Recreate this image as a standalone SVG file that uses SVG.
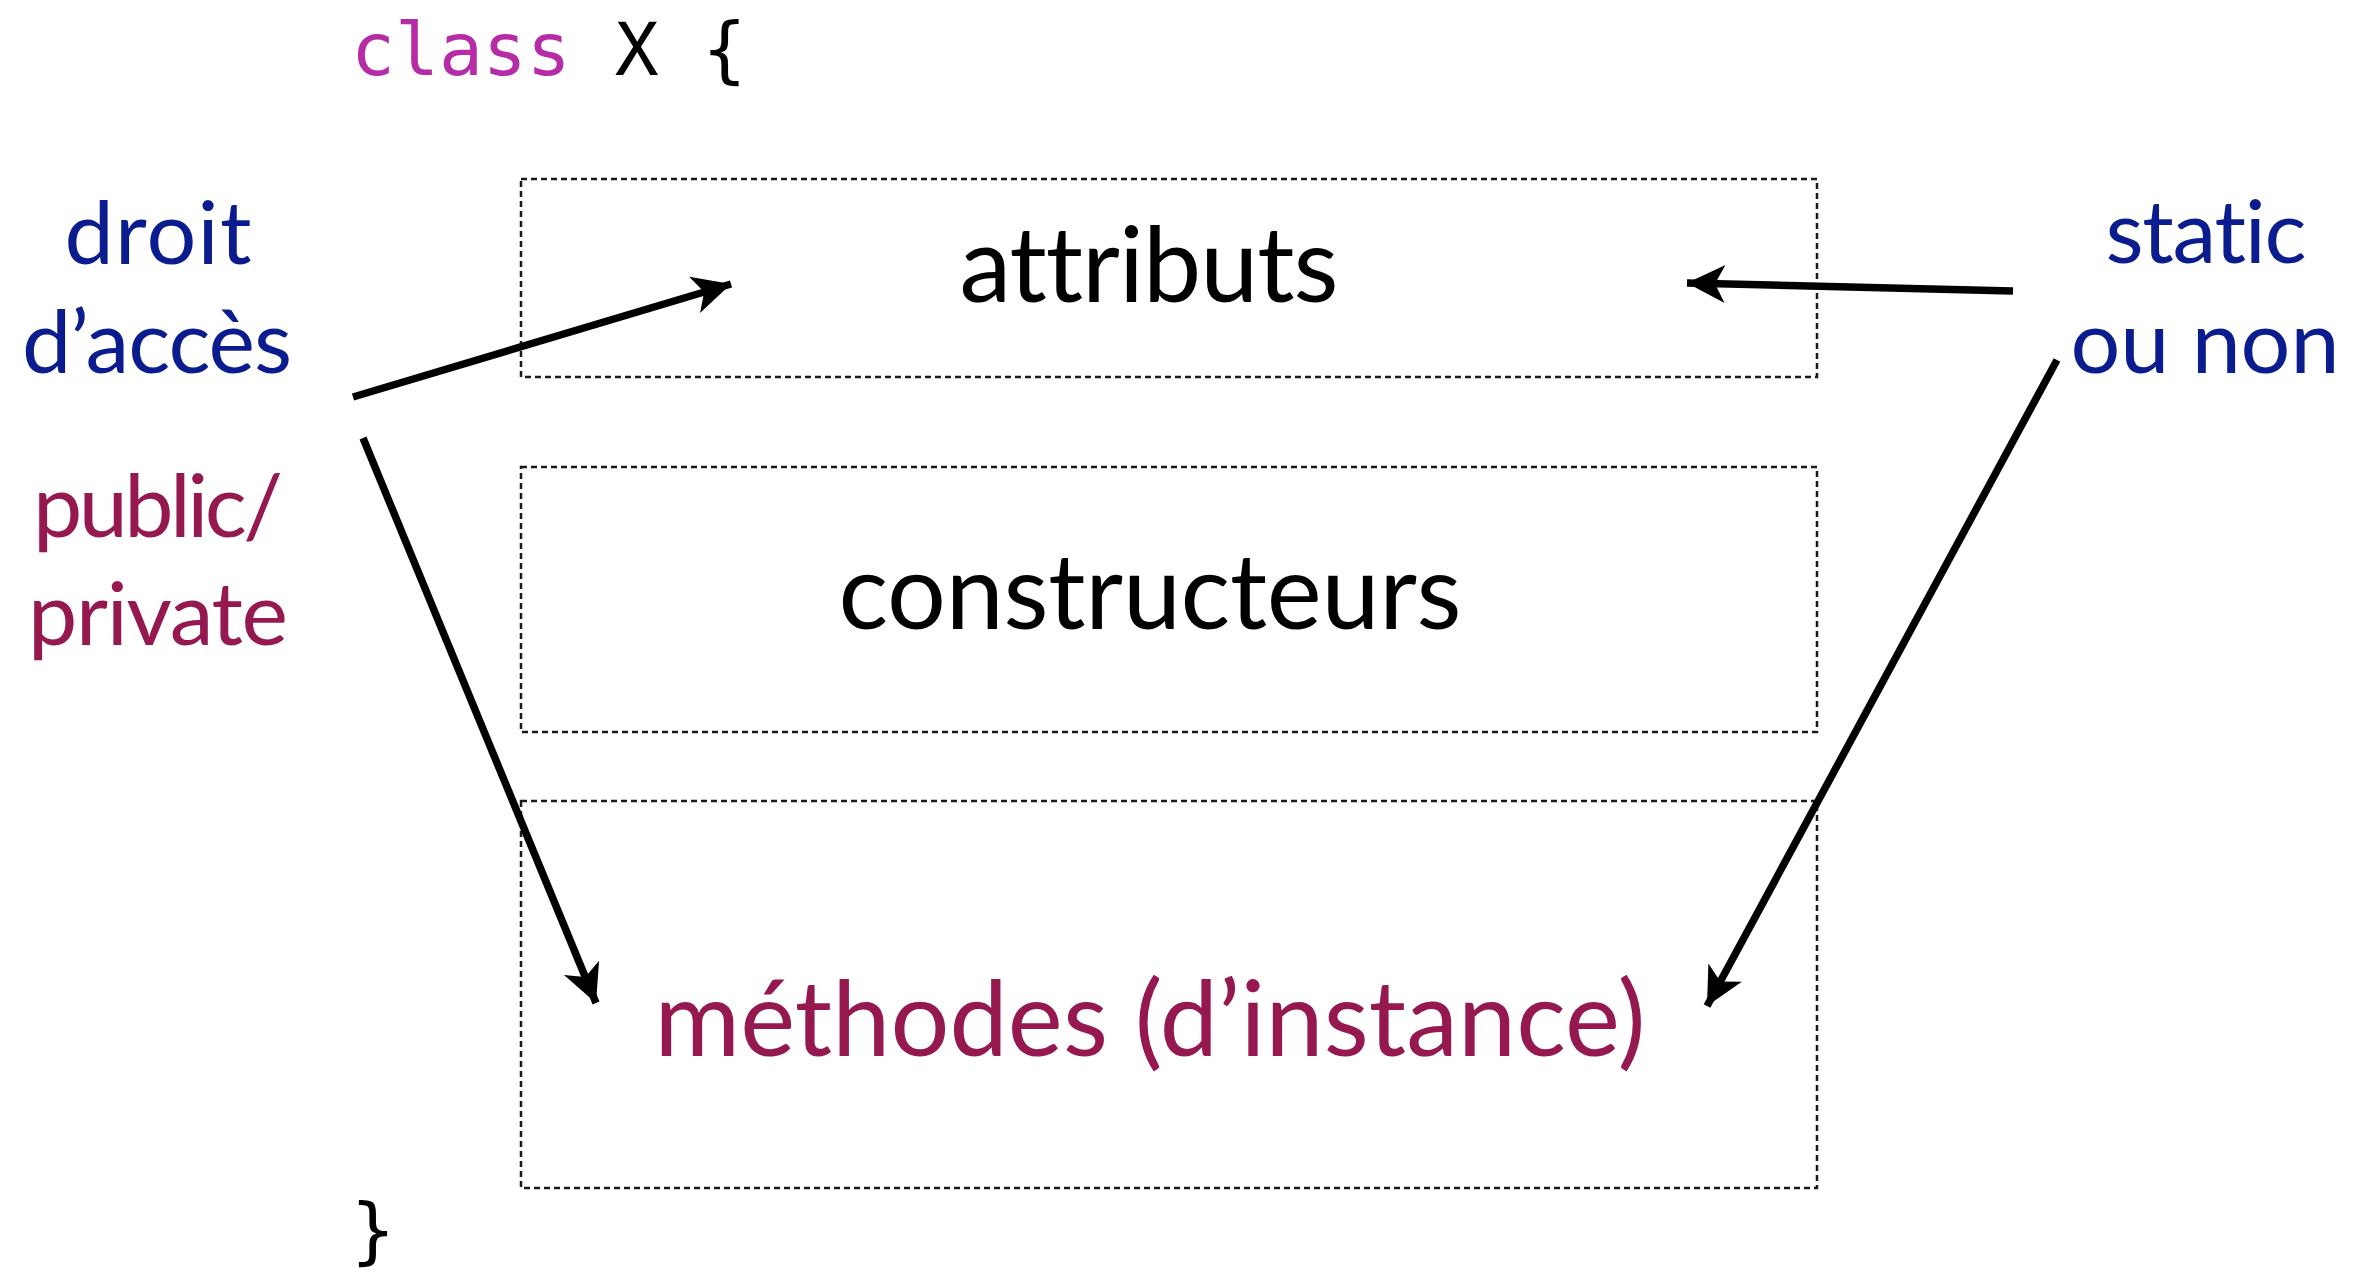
<svg xmlns="http://www.w3.org/2000/svg" width="2365" height="1272" viewBox="0 0 2365 1272">
  <style>
    text { font-variant-ligatures: none; font-feature-settings: "liga" 0, "clig" 0; }
    .code { font-family: "DejaVu Sans Mono", "Liberation Mono", monospace; font-size: 73px; }
    .kw { fill: #B62CA6; }
    .plain { fill: #000000; }
    .box { fill: none; stroke: #1a1a1a; stroke-width: 2.5; stroke-dasharray: 6 4; }
    .part { font-family: Lato, "Open Sans", sans-serif; font-size: 104px; text-anchor: middle; }
    .side { font-family: Lato, "Open Sans", sans-serif; font-size: 88px; text-anchor: middle; }
    .blue { fill: #0A1C8E; }
    .maroon { fill: #95184F; }
    .black { fill: #000000; }
    .arrow { fill: none; stroke: #000000; stroke-width: 7.5; marker-end: url(#head); }
  </style>
  <defs>
    <marker id="head" markerUnits="userSpaceOnUse" markerWidth="50" markerHeight="50" viewBox="-42 -25 50 50" refX="0" refY="0" orient="auto">
      <path d="M0,0 L-38,-19 L-28,0 L-38,19 Z" fill="#000000"/>
    </marker>
  </defs>

  <!-- class header and closing brace -->
  <g id="class-header">
    <text class="code" x="351" y="75"><tspan class="kw">class</tspan><tspan class="plain"> X {</tspan></text>
  </g>
  <g id="class-footer">
    <text class="code plain" x="351" y="1256">}</text>
  </g>

  <!-- class members -->
  <g id="attributs">
    <rect class="box" x="521" y="179" width="1296" height="198"/>
    <text class="part black" x="1149" y="302" textLength="379">attributs</text>
  </g>
  <g id="constructeurs">
    <rect class="box" x="521" y="467" width="1296" height="265"/>
    <text class="part black" x="1150" y="629" textLength="623">constructeurs</text>
  </g>
  <g id="methodes">
    <rect class="box" x="521" y="801" width="1296" height="387"/>
    <text class="part maroon" x="1150" y="1056" textLength="991">méthodes (d’instance)</text>
  </g>

  <!-- side notes -->
  <g id="droit-acces">
    <text class="side blue" x="158" y="264" textLength="187">droit</text>
    <text class="side blue" x="157" y="373" textLength="270">d’accès</text>
  </g>
  <g id="public-private">
    <text class="side maroon" x="158" y="537" textLength="250">public/</text>
    <text class="side maroon" x="158" y="645" textLength="260">private</text>
  </g>
  <g id="static-ou-non">
    <text class="side blue" x="2206" y="263" textLength="201">static</text>
    <text class="side blue" x="2205" y="373" textLength="269">ou non</text>
  </g>

  <!-- connectors -->
  <g id="connectors">
    <line class="arrow" x1="353" y1="397" x2="731" y2="284"/>
    <line class="arrow" x1="363" y1="438" x2="596" y2="1003"/>
    <line class="arrow" x1="2013" y1="291" x2="1687" y2="283"/>
    <line class="arrow" x1="2057" y1="360" x2="1707" y2="1006"/>
  </g>
</svg>
